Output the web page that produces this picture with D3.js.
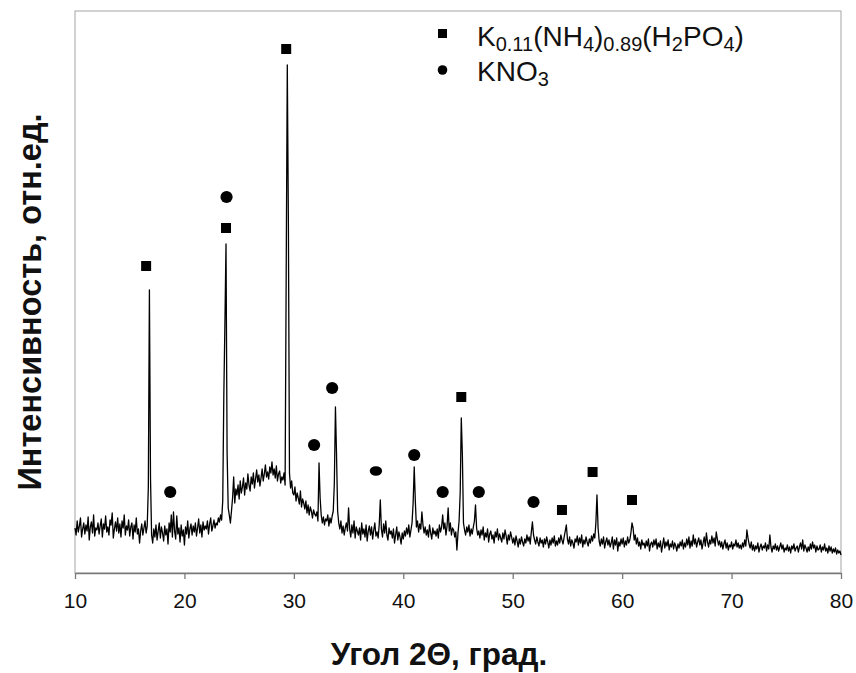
<!DOCTYPE html>
<html>
<head>
<meta charset="utf-8">
<script src="https://cdn.jsdelivr.net/npm/d3@7"></script>
<style>
  body { margin: 0; background: #fff; }
  svg { display: block; font-family: "Liberation Sans", Arial, sans-serif; }
</style>
</head>
<body>
<div id="chart"></div>
<script>
// XRD pattern: intensity on a 0.1 degree grid from 10 to 80 (2 theta), arbitrary units
const angleStart = 10
const angleStep = 0.1
const intensity = [
  45,38,52,41,47,55,36,44,50,39,
  48,42,56,33,46,51,40,58,37,45,
  43,50,39,47,54,36,49,44,57,41,
  46,38,53,48,60,35,44,51,42,55,
  40,49,36,52,45,58,38,47,43,53,
  37,46,50,34,48,41,55,39,44,30,
  42,49,38,45,52,40,47,85,283,95,
  38,30,44,36,48,33,42,50,35,46,
  40,32,47,38,44,29,50,41,58,36,
  61,42,34,57,39,45,31,48,37,43,
  28,46,39,52,35,44,49,38,47,41,
  50,37,45,54,40,48,36,51,43,47,
  44,52,39,49,55,42,47,53,45,50,
  48,55,51,58,53,72,178,250,329,120,
  65,58,50,62,75,96,70,84,78,88,
  74,92,80,86,95,78,90,84,99,88,
  82,96,89,100,85,94,103,91,98,87,
  95,104,92,99,108,96,101,94,106,100,
  111,98,104,95,107,92,99,102,90,96,
  93,100,88,300,508,350,100,85,92,80,
  78,86,72,80,75,69,82,66,74,70,
  64,72,60,68,58,66,62,55,63,59,
  57,61,52,110,75,58,50,56,48,54,
  52,58,47,55,50,57,62,90,166,118,
  62,50,44,52,40,47,38,45,50,42,
  65,44,36,48,40,52,35,46,42,38,
  45,33,50,39,44,36,48,32,42,47,
  38,46,34,43,50,37,41,35,48,73,
  44,36,49,40,52,38,33,45,39,42,
  35,44,30,38,46,33,41,36,29,40,
  34,42,37,45,39,48,36,43,50,70,
  106,72,46,52,41,49,44,61,48,40,
  46,38,43,36,48,40,34,45,39,42,
  37,44,35,48,41,46,58,44,50,38,
  47,65,42,50,38,45,43,36,41,23,
  40,52,80,155,118,50,43,38,46,41,
  48,37,44,39,46,52,68,45,38,42,
  35,43,38,46,33,40,36,44,31,39,
  42,34,38,30,41,36,44,33,39,35,
  31,40,34,43,37,29,38,33,41,36,
  30,35,28,37,32,26,34,29,36,31,
  27,34,30,38,32,36,29,41,51,38,
  33,29,36,31,27,35,30,33,26,34,
  29,36,31,25,33,28,35,30,37,27,
  32,28,35,30,38,33,29,36,42,48,
  34,29,36,27,33,30,25,34,31,37,
  28,35,30,38,26,33,29,36,31,27,
  34,30,37,32,39,35,50,78,45,32,
  27,34,29,36,25,31,35,28,33,26,
  30,36,24,33,28,35,22,31,27,34,
  29,35,26,32,28,36,30,33,40,50,
  45,33,38,29,35,27,31,24,33,28,
  30,25,32,27,34,22,29,31,26,33,
  28,34,24,30,26,32,21,28,35,25,
  31,27,33,23,29,26,32,24,30,27,
  22,29,25,31,27,33,24,30,26,34,
  28,36,25,32,27,38,29,34,26,31,
  35,28,33,24,30,36,27,40,31,26,
  33,29,37,30,35,27,41,34,28,32,
  26,31,24,29,33,25,30,23,28,26,
  31,24,29,27,33,26,30,25,28,24,
  30,26,33,27,43,35,29,25,31,23,
  28,22,27,24,30,21,26,29,23,27,
  25,30,22,28,24,38,26,21,27,24,
  29,23,27,22,26,30,24,28,21,25,
  23,28,22,26,20,27,24,29,22,25,
  27,21,26,30,24,33,22,28,25,21,
  26,22,29,24,31,25,28,21,27,23,
  24,28,21,26,23,29,22,25,20,27,
  22,26,20,24,21,25,19,23,20,22,
  18
]

// phase markers: [2 theta, height]
const squareMarks = [[16.5, 307], [23.8, 345], [29.3, 524], [45.3, 176], [54.5, 63], [57.3, 101], [60.9, 73]]
const circleMarks = [[18.7, 81], [23.85, 376], [31.85, 128], [33.5, 185], [41.0, 118], [43.6, 81], [46.9, 81], [51.9, 71]]
const ovalMarks = [[37.5, 102]]

const xTicks = [10, 20, 30, 40, 50, 60, 70, 80]

const W = 856, H = 673
const plot = { left: 75, right: 841, top: 11, bottom: 573 }

const svg = d3.select('#chart').append('svg')
  .attr('width', W)
  .attr('height', H)

const x = d3.scaleLinear().domain([10, 80]).range([plot.left, plot.right])
const y = d3.scaleLinear().domain([0, 562]).range([plot.bottom, plot.top])

// frame
svg.append('rect')
  .attr('x', plot.left).attr('y', plot.top)
  .attr('width', plot.right - plot.left).attr('height', plot.bottom - plot.top)
  .attr('fill', 'none').attr('stroke', '#b4b4b4').attr('stroke-width', 1.2)

// pattern
const points = intensity.map((v, i) => [angleStart + i * angleStep, v])
svg.append('path')
  .datum(points)
  .attr('fill', 'none')
  .attr('stroke', '#000')
  .attr('stroke-width', 1.3)
  .attr('stroke-linejoin', 'round')
  .attr('d', d3.line().x(d => x(d[0])).y(d => y(d[1])))

// bottom axis
const xAxis = svg.append('g')
  .attr('transform', `translate(0,${plot.bottom})`)
  .call(d3.axisBottom(x).tickValues(xTicks).tickSize(6).tickSizeOuter(0).tickPadding(14))
xAxis.select('.domain').attr('stroke', '#7a7a7a').attr('stroke-width', 1.5)
xAxis.selectAll('.tick line').attr('stroke', '#7a7a7a').attr('stroke-width', 1.3)
xAxis.selectAll('.tick text')
  .attr('font-size', 21)
  .attr('fill', '#111')
  .style('font-family', '"Liberation Sans", Arial, sans-serif')

// markers
svg.selectAll('rect.sq')
  .data(squareMarks)
  .enter().append('rect')
  .attr('class', 'sq')
  .attr('x', d => x(d[0]) - 5)
  .attr('y', d => y(d[1]) - 5)
  .attr('width', 10).attr('height', 10)
  .attr('fill', '#000')

svg.selectAll('circle.kn')
  .data(circleMarks)
  .enter().append('circle')
  .attr('class', 'kn')
  .attr('cx', d => x(d[0]))
  .attr('cy', d => y(d[1]))
  .attr('r', 6.1)
  .attr('fill', '#000')

svg.selectAll('ellipse.kn')
  .data(ovalMarks)
  .enter().append('ellipse')
  .attr('class', 'kn')
  .attr('cx', d => x(d[0]))
  .attr('cy', d => y(d[1]))
  .attr('rx', 6.2).attr('ry', 4.8)
  .attr('fill', '#000')

// legend
const legend = svg.append('g')
legend.append('rect').attr('x', 438).attr('y', 29).attr('width', 9).attr('height', 9).attr('fill', '#000')
legend.append('circle').attr('cx', 442.5).attr('cy', 70).attr('r', 4.8).attr('fill', '#000')

function formula(g, px, py, parts) {
  const t = g.append('text').attr('x', px).attr('y', py).attr('fill', '#111').attr('font-size', 28)
  parts.forEach(p => {
    t.append('tspan')
      .attr('font-size', p[1] === 1 ? 20 : 28)
      .attr('dy', p[1] === 1 ? 5 : (p[1] === -1 ? -5 : 0))
      .text(p[0])
  })
}
// [text, 1 = drop into subscript, -1 = back up]
formula(legend, 477, 46, [['K', 0], ['0.11', 1], ['(NH', -1], ['4', 1], [')', -1], ['0.89', 1], ['(H', -1], ['2', 1], ['PO', -1], ['4', 1], [')', -1]])
formula(legend, 477, 81, [['KNO', 0], ['3', 1]])

// axis titles
svg.append('text')
  .attr('x', 439).attr('y', 665)
  .attr('text-anchor', 'middle')
  .attr('font-size', 31.5).attr('font-weight', 'bold').attr('fill', '#111')
  .text('Угол 2Θ, град.')

svg.append('text')
  .attr('transform', 'translate(41,302) rotate(-90)')
  .attr('text-anchor', 'middle')
  .attr('font-size', 32.5).attr('font-weight', 'bold').attr('fill', '#111')
  .text('Интенсивность, отн.ед.')
</script>
</body>
</html>
